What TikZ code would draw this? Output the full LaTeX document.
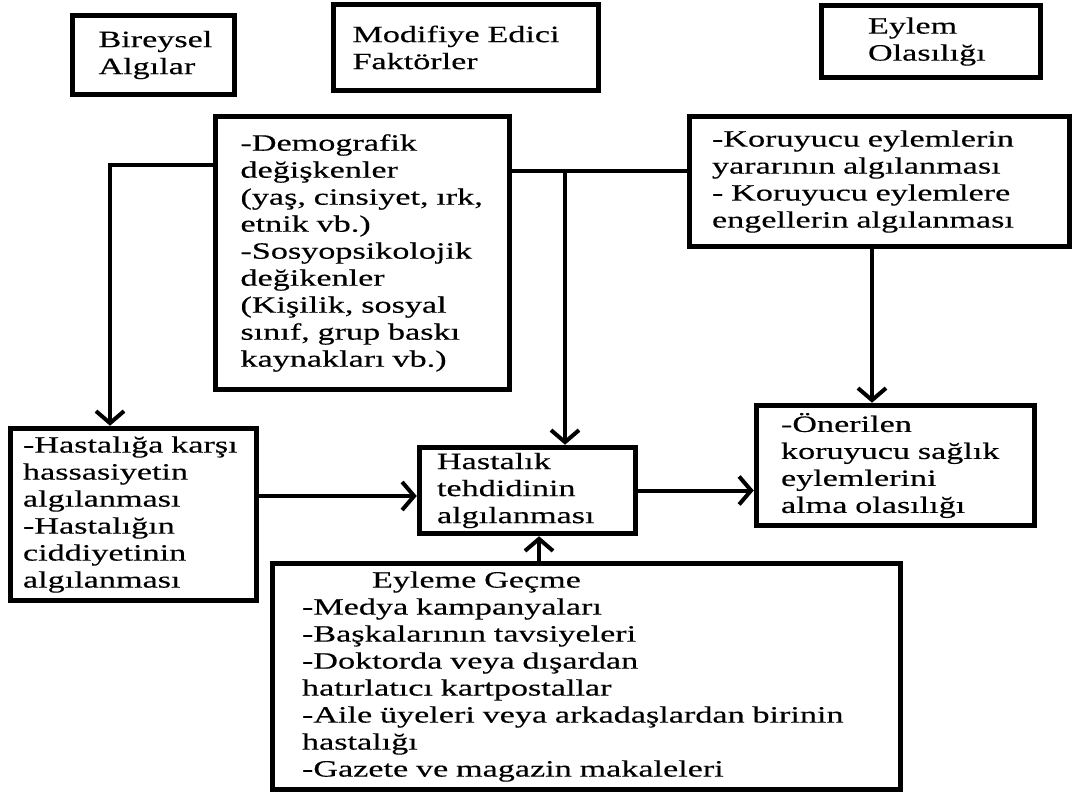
\documentclass[tikz,border=0pt]{standalone}
\usepackage{fontspec}
\setmainfont{Liberation Serif}[FakeStretch=1.46, FakeBold=0.3]
\usepackage{tikz}
\usetikzlibrary{arrows.meta,calc}
\hyphenpenalty=10000
\exhyphenpenalty=10000

\begin{document}
\begin{tikzpicture}[x=1pt, y=-1pt, font=\fontsize{23.4}{27}\selectfont,
  box/.style={draw, line width=5.5pt, align=left, inner ysep=0pt},
  link/.style={line width=4pt},
  arr/.style={link, -{Straight Barb[length=12pt, width=28pt, line width=4pt]}}]
\useasboundingbox[fill=white] (0,0) rectangle (1072,794);
% headings
\node[box, minimum height=79pt, text width=110pt, inner xsep=26pt] (bir) at (153.5,55) {Bireysel\\Algılar};
\node[box, minimum height=86pt, text width=227pt, inner xsep=19pt] (mod) at (466,47.5) {Modifiye Edici\\Faktörler};
\node[box, minimum height=72pt, text width=126pt, inner xsep=46.5pt] (eyl) at (931,41.5) {Eylem\\Olasılığı};
% model boxes
\node[box, minimum height=273pt, text width=244pt, inner xsep=25pt] (demo) at (362.5,253)
  {-Demografik\\değişkenler\\(yaş, cinsiyet, ırk,\\etnik vb.)\\-Sosyopsikolojik\\değikenler\\(Kişilik, sosyal\\sınıf, grup baskı\\kaynakları vb.)};
\node[box, minimum height=130pt, text width=335pt, inner xsep=22.5pt] (kor) at (879.5,181.5)
  {-Koruyucu eylemlerin\\yararının algılanması\\- Koruyucu eylemlere\\engellerin algılanması};
\node[box, minimum height=172pt, text width=221pt, inner xsep=12.5pt] (has) at (133.5,514.5)
  {-Hastalığa karşı\\hassasiyetin\\algılanması\\-Hastalığın\\ciddiyetinin\\algılanması};
\node[box, minimum height=86pt, text width=181pt, inner xsep=17.5pt] (tehd) at (527.5,490.5)
  {Hastalık\\tehdidinin\\algılanması};
\node[box, minimum height=120pt, text width=229pt, inner xsep=24.5pt] (oner) at (895.5,465.5)
  {-Önerilen\\koruyucu sağlık\\eylemlerini\\alma olasılığı};
\node[box, minimum height=226pt, text width=569pt, inner xsep=29.5pt] (gec) at (586.5,676.5)
  {\hspace*{70pt}Eyleme Geçme\\-Medya kampanyaları\\-Başkalarının tavsiyeleri\\-Doktorda veya dışardan\\hatırlatıcı kartpostallar\\-Aile üyeleri veya arkadaşlardan birinin\\hastalığı\\-Gazete ve magazin makaleleri};
% connectors
\coordinate (j) at ([xshift=37.5pt]tehd.north);
\draw[arr] ([yshift=88pt]demo.west) -| ([xshift=-23.5pt]has.north);
\draw[link] ([yshift=82pt]demo.east) -- ([yshift=82pt]demo.east -| kor.west);
\draw[arr] ([yshift=82pt]demo.east -| j) -- (j);
\draw[arr] ([xshift=-7.5pt]kor.south) -- ([xshift=-7.5pt]kor.south |- oner.north);
\draw[arr] ([yshift=18.5pt]has.east) -- ([yshift=18.5pt]has.east -| tehd.west);
\draw[arr] (tehd.east) -- (tehd.east -| oner.west);
\draw[arr] ([xshift=-47.5pt]gec.north) -- ([xshift=-47.5pt]gec.north |- tehd.south);
\end{tikzpicture}
\end{document}
